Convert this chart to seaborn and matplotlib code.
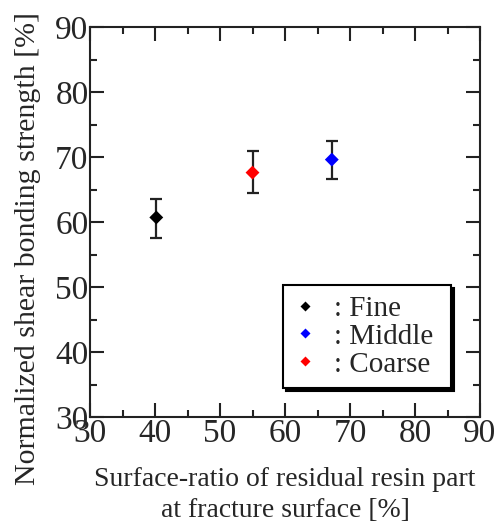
import matplotlib
matplotlib.use("Agg")
import matplotlib.pyplot as plt
import pandas as pd
import seaborn as sns

# values
grades = ["Fine", "Middle", "Coarse"]
resin_ratio = [40.2, 67.2, 55.0]          # surface-ratio of residual resin part [%]
shear_strength = [60.7, 69.6, 67.6]      # normalized shear bonding strength [%]
err_low = [57.6, 66.6, 64.4]
err_high = [63.5, 72.4, 71.0]
colors = ["black", "blue", "red"]

df = pd.DataFrame({"grade": grades, "x": resin_ratio, "y": shear_strength,
                   "lo": err_low, "hi": err_high})

sns.set_style("ticks")
plt.rcParams["font.family"] = ["Liberation Serif", "DejaVu Serif"]

fig = plt.figure(figsize=(5.03, 5.22), dpi=100)
ax = fig.add_axes([90 / 503, 1 - 417 / 522, 390 / 503, 390 / 522])

# error bars first, then the diamonds on top
yerr = [df["y"] - df["lo"], df["hi"] - df["y"]]
ax.errorbar(df["x"], df["y"], yerr=yerr, fmt="none", ecolor="#222222",
            elinewidth=1.6, capsize=4, capthick=1.6, zorder=2)
sns.scatterplot(data=df, x="x", y="y", hue="grade", palette=colors,
                marker="D", s=50, edgecolor="none", ax=ax, zorder=3)

ax.set_xlim(30, 90)
ax.set_ylim(30, 90)
ax.set_xticks(range(30, 91, 10))
ax.set_yticks(range(30, 91, 10))
ax.set_xticks(range(35, 90, 10), minor=True)
ax.set_yticks(range(35, 90, 10), minor=True)
ax.tick_params(which="both", direction="in", top=True, right=True,
               width=1.5, labelsize=24, pad=1, color="#222222")
ax.tick_params(which="major", length=10)
ax.tick_params(which="minor", length=5)
for sp in ax.spines.values():
    sp.set_linewidth(1.5)
    sp.set_color("#222222")

ax.set_xlabel("Surface-ratio of residual resin part\nat fracture surface [%]",
              fontsize=20, linespacing=1.3)
ax.xaxis.set_label_coords(0.5, -0.128)
ax.set_ylabel("Normalized shear bonding strength [%]", fontsize=21.5)
ax.yaxis.set_label_coords(-0.125, 0.433)

handles, labels = ax.get_legend_handles_labels()
leg = ax.legend(handles, [": " + l + " " for l in labels], loc="lower right",
                bbox_to_anchor=(0.925, 0.075), fontsize=21, frameon=True,
                fancybox=False, shadow={"color": "black", "alpha": 1},
                edgecolor="black", handlelength=0.8, handletextpad=0.6,
                markerscale=0.75, borderpad=0.35, labelspacing=0.05,
                borderaxespad=0)
leg.get_frame().set_linewidth(1.5)

fig.savefig("out.png", dpi=100)
